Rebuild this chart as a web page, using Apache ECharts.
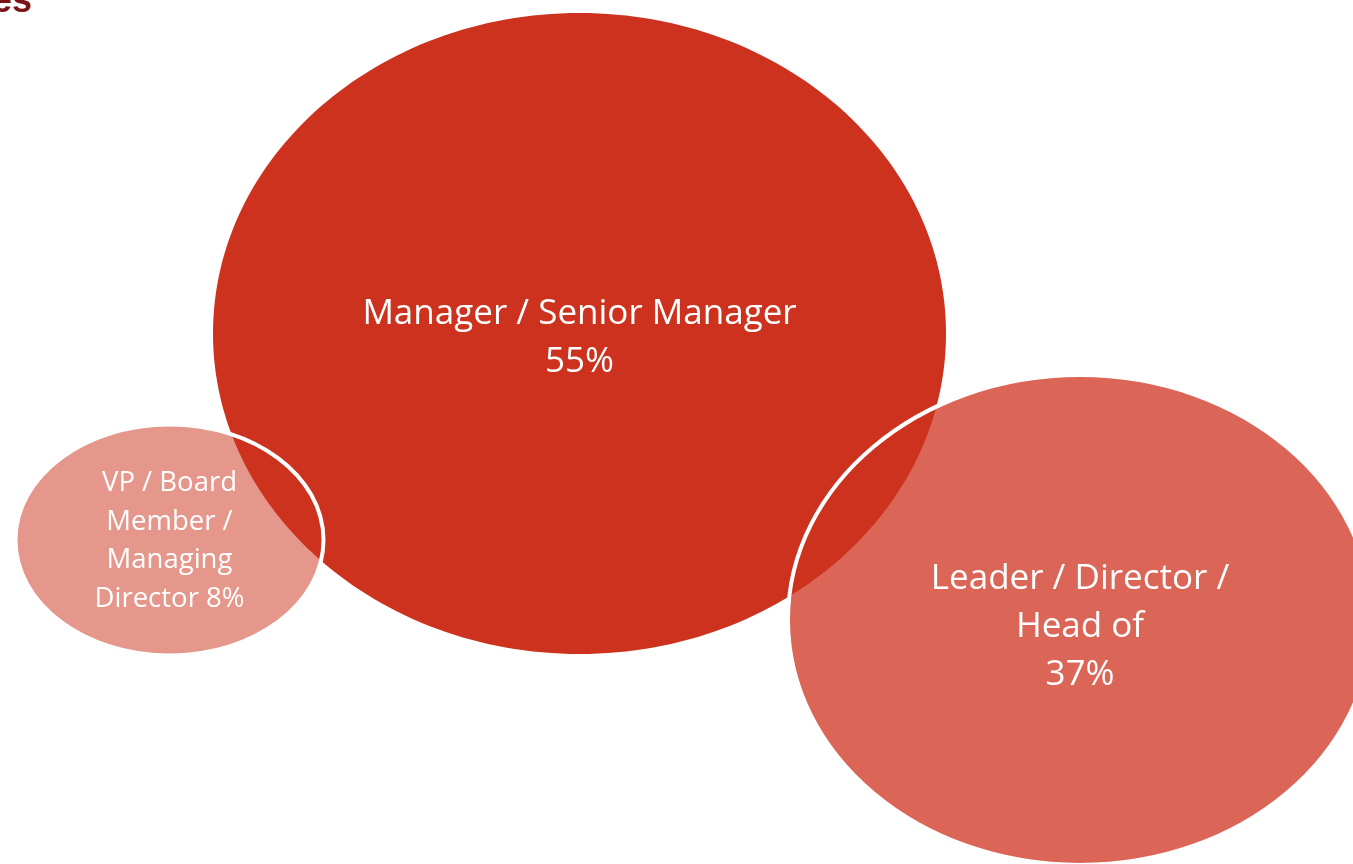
<!DOCTYPE html>
<html>
<head>
<meta charset="utf-8">
<script src="https://cdn.jsdelivr.net/npm/echarts@6/dist/echarts.min.js"></script>
<style>
html, body { margin: 0; padding: 0; background: #fff; }
#chart { width: 1353px; height: 864px; }
</style>
</head>
<body>
<div id="chart"></div>
<script>
// data
var roles = ['VP / Board Member / Managing Director', 'Leader / Director / Head of', 'Manager / Senior Manager'];
var shares = [8, 37, 55];
var roleLines = ['VP / Board\nMember /\nManaging\nDirector', 'Leader / Director /\nHead of', 'Manager / Senior Manager'];

// layout of the bubbles (axis units = page px)
var bubbleX = [169.5, 1080, 579.5];
var bubbleY = [540, 620, 333.5];
var bubbleRx = [154, 292, 366.5];
var bubbleRy = [115.5, 245, 320.5];
var labelY = [541, 627, 338];
var fills = ['#E5978B', '#DB6556', '#CC321D'];
var fontSizes = [27.5, 35, 35];
var lineHeights = [38.5, 48, 48];

var chart = echarts.init(document.getElementById('chart'));

var seriesData = shares.map(function (v, i) {
  return {
    name: roles[i],
    value: [bubbleX[i], bubbleY[i], bubbleRx[i], bubbleRy[i], v, labelY[i]]
  };
});

function ellipseOf(api) {
  var c = api.coord([api.value(0), api.value(1)]);
  var s = api.size([api.value(2), api.value(3)]);
  return { cx: c[0], cy: c[1], rx: s[0], ry: s[1] };
}

var option = {
  animation: false,
  grid: { left: 0, right: 0, top: 0, bottom: 0 },
  xAxis: { type: 'value', min: 0, max: 1353, show: false },
  yAxis: { type: 'value', min: 0, max: 864, inverse: true, show: false },
  graphic: [{
    type: 'text',
    left: -8,
    top: -16,
    style: {
      text: 'es',
      font: 'bold 36px "Liberation Sans"',
      fill: '#7A1416'
    }
  }],
  series: [{
    // fills, small ones first so the big bubble covers the overlaps
    type: 'custom',
    data: seriesData,
    renderItem: function (params, api) {
      return {
        type: 'ellipse',
        shape: ellipseOf(api),
        style: { fill: fills[params.dataIndex] }
      };
    },
    silent: true
  }, {
    // white outlines of the two smaller bubbles, drawn on top
    type: 'custom',
    data: seriesData.slice(0, 2),
    renderItem: function (params, api) {
      return {
        type: 'ellipse',
        shape: ellipseOf(api),
        style: { fill: null, stroke: '#ffffff', lineWidth: 4 }
      };
    },
    silent: true
  }, {
    // labels
    type: 'custom',
    data: seriesData,
    renderItem: function (params, api) {
      var i = params.dataIndex;
      var c = api.coord([api.value(0), api.value(5)]);
      var sep = i === 0 ? ' ' : '\n';
      return {
        type: 'text',
        x: c[0],
        y: c[1],
        style: {
          text: roleLines[i] + sep + api.value(4) + '%',
          fill: '#ffffff',
          font: fontSizes[i] + 'px "Open Sans"',
          lineHeight: lineHeights[i],
          align: 'center',
          verticalAlign: 'middle'
        }
      };
    },
    silent: true
  }]
};

chart.setOption(option);
</script>
</body>
</html>
